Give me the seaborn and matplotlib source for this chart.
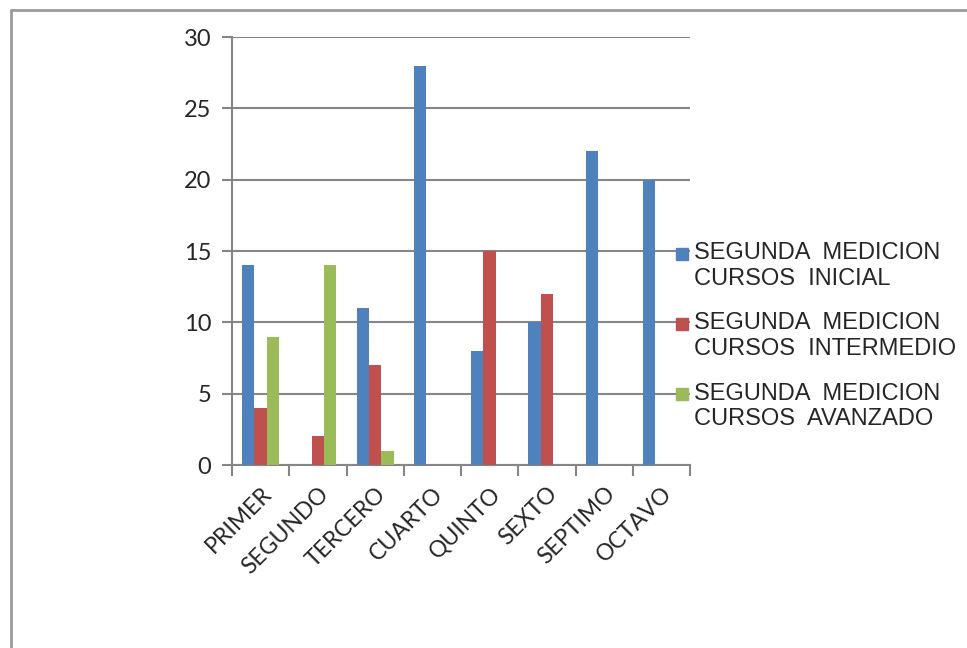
import numpy as np
import pandas as pd
import matplotlib
matplotlib.use("Agg")
import matplotlib.pyplot as plt
from matplotlib.lines import Line2D
import seaborn as sns

cursos = ["PRIMER", "SEGUNDO", "TERCERO", "CUARTO", "QUINTO", "SEXTO", "SEPTIMO", "OCTAVO"]
series = [
    "SEGUNDA  MEDICION\nCURSOS  INICIAL",
    "SEGUNDA  MEDICION\nCURSOS  INTERMEDIO",
    "SEGUNDA  MEDICION\nCURSOS  AVANZADO",
]
inicial = [14, 0, 11, 28, 8, 10, 22, 20]
intermedio = [4, 2, 7, 0, 15, 12, 0, 0]
avanzado = [9, 14, 1, 0, 0, 0, 0, 0]
colores = ["#4F81BD", "#C0504D", "#9BBB59"]

df = pd.DataFrame({
    "curso": cursos * 3,
    "serie": [series[0]] * 8 + [series[1]] * 8 + [series[2]] * 8,
    "valor": inicial + intermedio + avanzado,
})

sns.set_style("white")
plt.rcParams["font.family"] = ["Lato", "DejaVu Sans"]

fig = plt.figure(figsize=(9.67, 6.48), dpi=100)
ax = fig.add_axes([232 / 967, 1 - 465 / 648, 458 / 967, 428 / 648])

sns.barplot(data=df, x="curso", y="valor", hue="serie", palette=colores,
            width=0.65, gap=0, saturation=1, linewidth=0, ax=ax, legend=False, zorder=3)

gris = "#868686"
ax.set_ylim(0, 30)
ax.set_xlim(-0.5, 7.5)
ax.set_yticks(range(0, 31, 5))
ax.yaxis.grid(True, color=gris, linewidth=1.5, zorder=0)
ax.set_axisbelow(True)
for s in ["top", "right"]:
    ax.spines[s].set_visible(False)
for s in ["left", "bottom"]:
    ax.spines[s].set_color(gris)
    ax.spines[s].set_linewidth(1.5)
ax.set_xlabel("")
ax.set_ylabel("")

ax.tick_params(axis="y", left=True, length=7, width=1.5, color=gris, labelsize=17, pad=8)
ax.set_xticks(range(8))
ax.set_xticklabels(cursos, rotation=45, ha="right", rotation_mode="anchor", fontsize=16.5)
ax.tick_params(axis="x", which="major", length=0, pad=13)
ax.set_xticks(np.arange(-0.5, 8, 1), minor=True)
ax.tick_params(axis="x", which="minor", bottom=True, length=8, width=1.5, color=gris)

handles = [Line2D([], [], marker="s", linestyle="none", markersize=9,
                  markerfacecolor=c, markeredgecolor=c) for c in colores]
leg = fig.legend(handles, series, loc="upper left", bbox_to_anchor=(651 / 967, 1 - 221 / 648),
                 frameon=False, handlelength=0.8, handletextpad=0.1, labelspacing=0.95,
                 prop={"family": "Liberation Sans", "size": 17})
for t in leg.get_texts():
    t.set_linespacing(1.22)
for h in leg.legend_handles:
    h.set_ydata([y + 9 for y in h.get_ydata()])

# marco exterior
fig.add_artist(Line2D([11 / 967, 11 / 967], [0, 1 - 10 / 648], color="#9a9a9a", linewidth=2))
fig.add_artist(Line2D([11 / 967, 1], [1 - 10 / 648, 1 - 10 / 648], color="#9a9a9a", linewidth=2))

fig.savefig("out.png", dpi=100)
